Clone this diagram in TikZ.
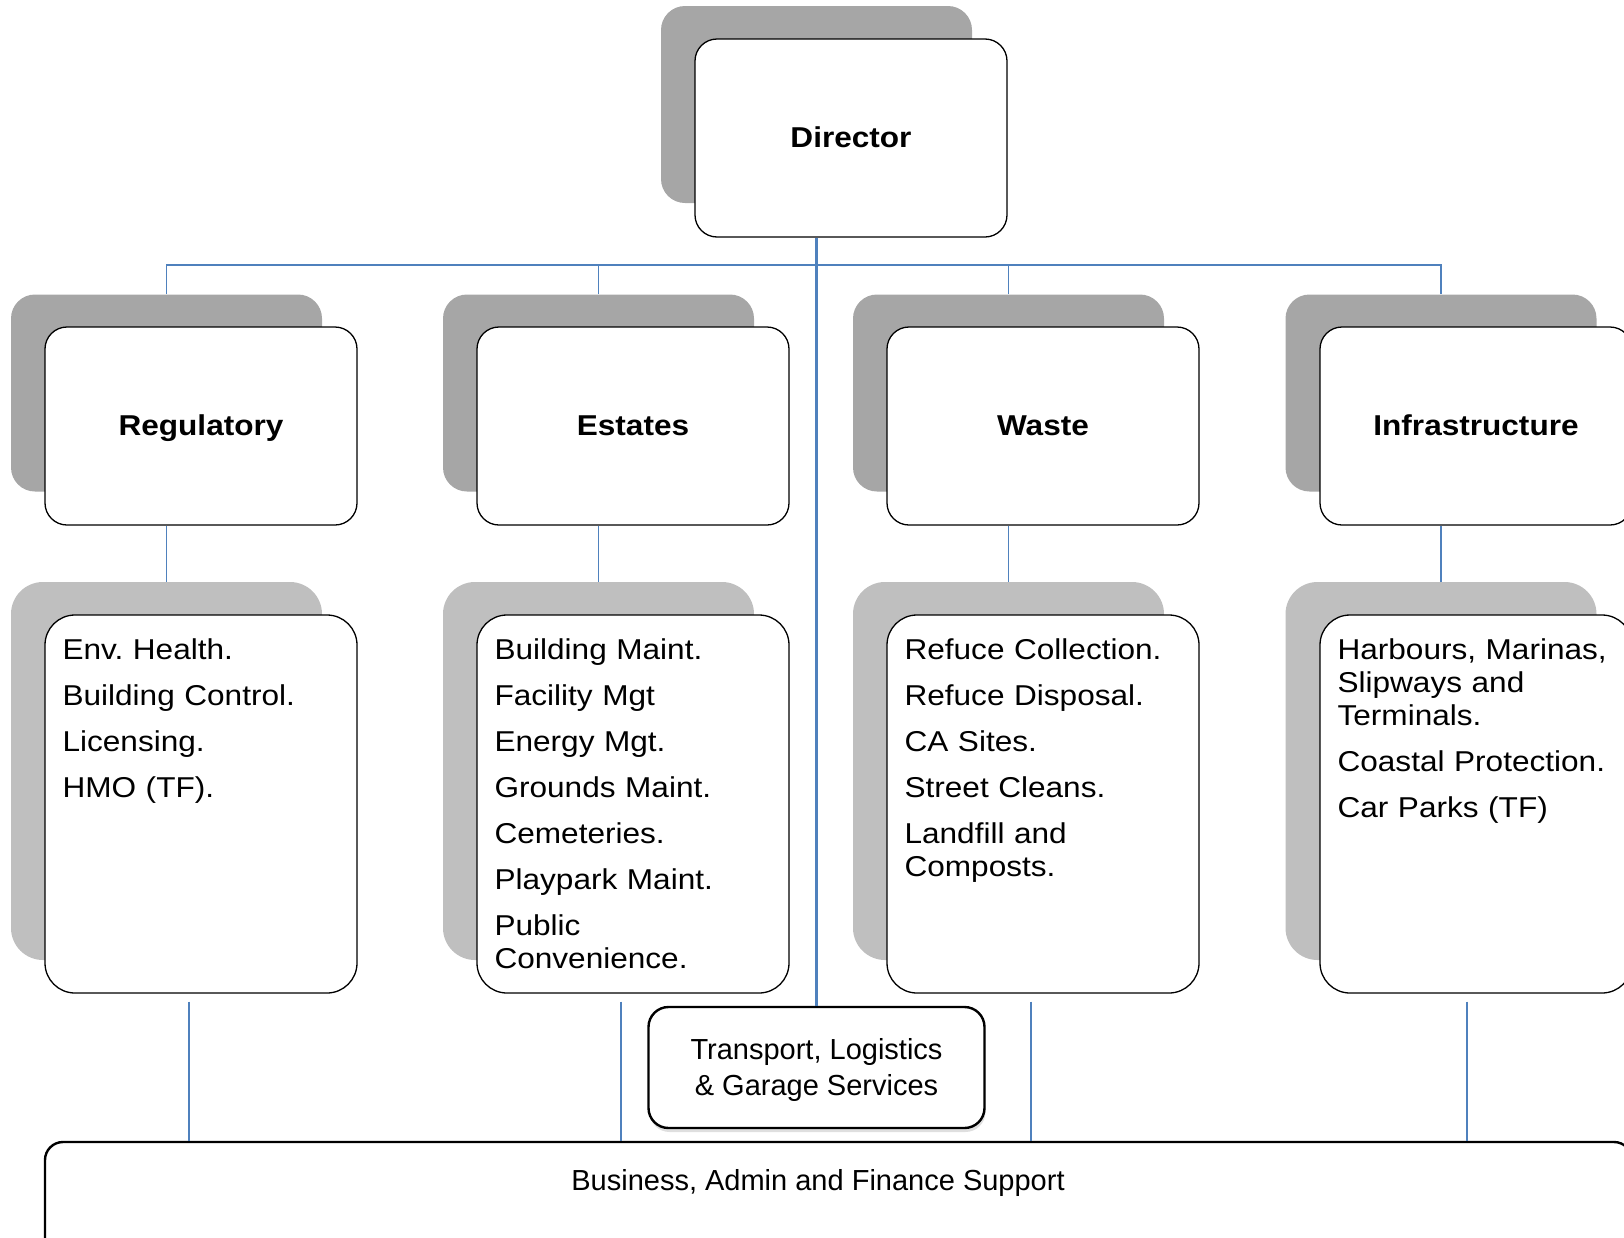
\documentclass[tikz,border=0pt]{standalone}
\usepackage{fontspec}
\setmainfont{Liberation Sans}
\newfontfamily\wideface[FakeStretch=1.1]{Liberation Sans}
\usetikzlibrary{shadows}
\definecolor{topgray}{HTML}{A6A6A6}
\definecolor{lowgray}{HTML}{BFBFBF}
\definecolor{linkblue}{HTML}{4F81BD}
\frenchspacing

\begin{document}
\begin{tikzpicture}[x=1pt,y=-1pt]
\tikzstyle{topshade}=[fill=topgray,rounded corners=24pt,minimum width=311pt,minimum height=197pt];
\tikzstyle{topbox}=[draw,line width=1.3pt,fill=white,rounded corners=22pt,minimum width=312pt,minimum height=198pt,text height=25pt,text depth=6pt,font=\wideface\bfseries\fontsize{28.7}{34}\selectfont];
\tikzstyle{lowshade}=[fill=lowgray,rounded corners=32pt,minimum width=311pt,minimum height=378pt];
\tikzstyle{lowbox}=[draw,line width=1.3pt,fill=white,rounded corners=30pt,minimum width=312pt,minimum height=378pt];
\tikzstyle{items}=[anchor=base west,inner sep=0pt,text width=300pt,align=left,font=\wideface\fontsize{28.7}{33}\selectfont];
\tikzstyle{link}=[draw=linkblue,line width=1.3pt];
\tikzstyle{trunk}=[draw=linkblue,line width=2.5pt];
\tikzstyle{plainbox}=[draw,line width=2.4pt,fill=white,font=\fontsize{29}{36}\selectfont];
\useasboundingbox (0,0) rectangle (1624,1237);
\clip (0,0) rectangle (1624,1237);

% top
\node [topshade] (dirs) at (816.5,104.5) {};
\node [topbox] (dir) at (851,138) {Director};

% heads
\node [topshade] (regs) at (166.5,393) {};
\node [topbox] (reg) at (201,426) {Regulatory};
\node [topshade] (ests) at (598.5,393) {};
\node [topbox] (est) at (633,426) {Estates};
\node [topshade] (wsts) at (1008.5,393) {};
\node [topbox] (wst) at (1043,426) {Waste};
\node [topshade] (infs) at (1441,393) {};
\node [topbox] (inf) at (1476,426) {Infrastructure};

% lists
\node [lowshade] (regls) at (166.5,771) {};
\node [lowbox] (regl) at (201,804) {};
\node [lowshade] (estls) at (598.5,771) {};
\node [lowbox] (estl) at (633,804) {};
\node [lowshade] (wstls) at (1008.5,771) {};
\node [lowbox] (wstl) at (1043,804) {};
\node [lowshade] (infls) at (1441,771) {};
\node [lowbox] (infl) at (1476,804) {};

\node [items] (regt) at ([shift={(18,45)}]regl.north west) {Env. Health.\\[13pt]Building Control.\\[13pt]Licensing.\\[13pt]HMO (TF).};
\node [items] (estt) at ([shift={(18,45)}]estl.north west) {Building Maint.\\[13pt]Facility Mgt\\[13pt]Energy Mgt.\\[13pt]Grounds Maint.\\[13pt]Cemeteries.\\[13pt]Playpark Maint.\\[13pt]Public\\Convenience.};
\node [items] (wstt) at ([shift={(18,45)}]wstl.north west) {Refuce Collection.\\[13pt]Refuce Disposal.\\[13pt]CA Sites.\\[13pt]Street Cleans.\\[13pt]Landfill and\\Composts.};
\node [items] (inft) at ([shift={(18,45)}]infl.north west) {Harbours, Marinas,\\Slipways and\\Terminals.\\[13pt]Coastal Protection.\\[13pt]Car Parks (TF)};

% bottom
\node [plainbox,drop shadow={shadow xshift=1pt,shadow yshift=-4pt,opacity=0.25},rounded corners=20pt,minimum width=336pt,minimum height=121pt,align=center,text depth=1pt] (trn) at (816.5,1067.5) {Transport, Logistics\\\& Garage Services};
\node [plainbox,rounded corners=18pt,minimum width=1587pt,minimum height=150pt] (biz) at (838.5,1217) {};
\node [font=\fontsize{29}{36}\selectfont] (biztxt) at (818,1183) {Business, Admin and Finance Support};

% lines
\coordinate (bus) at (816.5,265);
\draw [link] (regs.north) |- (bus) -| (infs.north);
\draw [link] (ests.north) -- (ests.north |- bus);
\draw [link] (wsts.north) -- (wsts.north |- bus);
\draw [trunk] (dirs.center |- dir.south) -- (trn.north);
\foreach \n in {reg,est,wst,inf}
  \draw [link] (\n s.center |- \n.south) -- (\n ls.north);
\foreach \n/\dx in {regl/-12,estl/-12,wstl/-12,infl/-9}{
  \coordinate (\n-x) at ([xshift=\dx pt]\n.south);
  \draw [trunk] ([yshift=-8pt]\n-x) -- (\n-x |- biz.north);
}
\end{tikzpicture}
\end{document}
